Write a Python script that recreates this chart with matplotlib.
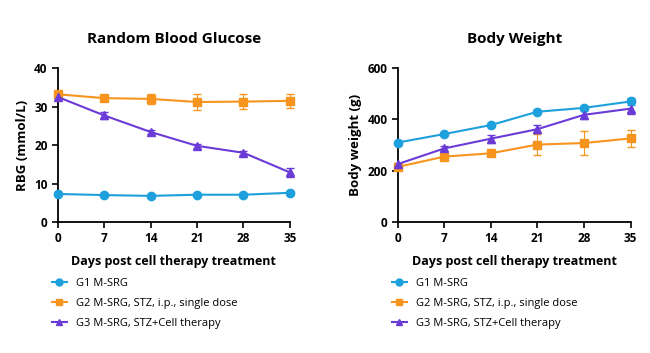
import matplotlib.pyplot as plt
from matplotlib.lines import Line2D

plt.rcParams['font.family'] = ['Open Sans', 'DejaVu Sans']

days = [0, 7, 14, 21, 28, 35]
labels = ['G1 M-SRG', 'G2 M-SRG, STZ, i.p., single dose', 'G3 M-SRG, STZ+Cell therapy']
colors = ['#1ea0dc', '#f7941d', '#6a3bd6']
markers = ['o', 's', '^']

# random blood glucose (mmol/L)
rbg_g1 = [7.3, 7.0, 6.8, 7.1, 7.1, 7.6]
rbg_g1_err = [0.3, 0.3, 0.3, 0.3, 0.3, 0.4]
rbg_g2 = [33.2, 32.2, 32.0, 31.2, 31.3, 31.5]
rbg_g2_err = [0.8, 0.8, 1.2, 2.1, 2.0, 1.8]
rbg_g3 = [32.5, 27.7, 23.4, 19.8, 18.0, 12.9]
rbg_g3_err = [0.5, 1.0, 0.5, 0.5, 0.5, 1.2]

# body weight (g)
bw_g1 = [310, 343, 378, 430, 445, 470]
bw_g1_err = [5, 5, 5, 5, 8, 12]
bw_g2 = [215, 255, 268, 302, 308, 326]
bw_g2_err = [10, 10, 10, 42, 48, 33]
bw_g3 = [226, 287, 325, 362, 418, 442]
bw_g3_err = [5, 10, 15, 15, 18, 22]

fig = plt.figure(figsize=(6.5, 3.53), dpi=100)
ax1 = fig.add_axes([0.089, 0.371, 0.357, 0.436])
ax2 = fig.add_axes([0.612, 0.371, 0.358, 0.436])


def draw(ax, series, errs, ylim, yticks, ylabel, title):
    for i in range(3):
        ax.errorbar(days, series[i], yerr=errs[i], color=colors[i], marker=markers[i],
                    markersize=6, linewidth=1.5, elinewidth=0.8, capsize=3,
                    ecolor=colors[i], clip_on=False, zorder=3)
    ax.set_xlim(0, 35)
    ax.set_ylim(*ylim)
    ax.set_xticks(days)
    ax.set_yticks(yticks)
    for s in ['top', 'right']:
        ax.spines[s].set_visible(False)
    for s in ['left', 'bottom']:
        ax.spines[s].set_linewidth(1.3)
    ax.tick_params(direction='out', length=4, width=1.2, labelsize=8.5)
    for t in ax.get_xticklabels() + ax.get_yticklabels():
        t.set_fontweight('bold')
    ax.set_xlabel('Days post cell therapy treatment', fontsize=9, fontweight='bold', labelpad=7)
    ax.set_ylabel(ylabel, fontsize=9.5, fontweight='bold')
    ax.set_title(title, fontsize=11, fontweight='bold', pad=18)
    handles = [Line2D([], [], color=colors[i], marker=markers[i], markersize=5,
                      linewidth=1.5) for i in range(3)]
    ax.legend(handles, labels, loc='upper left', bbox_to_anchor=(-0.07, -0.30),
              frameon=False, fontsize=8, handlelength=1.4, labelspacing=0.78,
              handletextpad=0.8)


draw(ax1, [rbg_g1, rbg_g2, rbg_g3], [rbg_g1_err, rbg_g2_err, rbg_g3_err],
     (0, 40), [0, 10, 20, 30, 40], 'RBG (mmol/L)', 'Random Blood Glucose')
draw(ax2, [bw_g1, bw_g2, bw_g3], [bw_g1_err, bw_g2_err, bw_g3_err],
     (0, 600), [0, 200, 400, 600], 'Body weight (g)', 'Body Weight')

fig.savefig('out.png', dpi=100)
